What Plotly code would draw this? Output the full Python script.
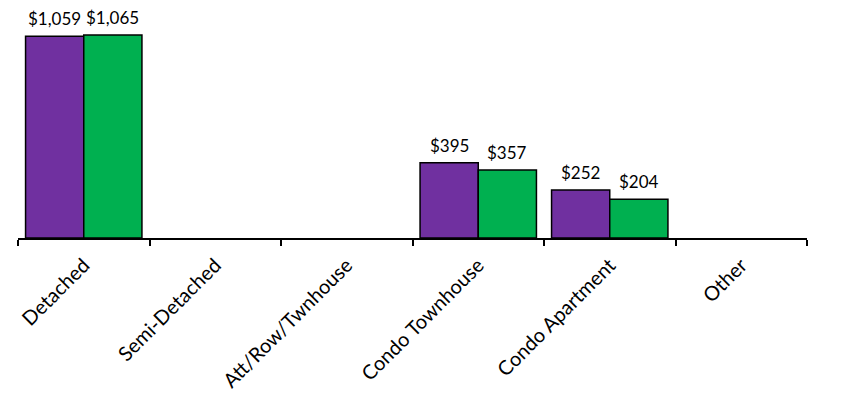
import plotly.graph_objects as go

categories = ["Detached", "Semi-Detached", "Att/Row/Twnhouse", "Condo Townhouse", "Condo Apartment", "Other"]
series_a = [1059, None, None, 395, 252, None]
series_b = [1065, None, None, 357, 204, None]

purple = "#7030A0"
green = "#00B050"
font = "Lato"

fig = go.Figure()
fig.add_trace(go.Bar(x=categories, y=series_a, name="A", marker=dict(color=purple, line=dict(color="black", width=1.5))))
fig.add_trace(go.Bar(x=categories, y=series_b, name="B", marker=dict(color=green, line=dict(color="black", width=1.5))))

# value labels above bars
for vals, shift in ((series_a, -29), (series_b, 29)):
    for c, v in zip(categories, vals):
        if v is None:
            continue
        fig.add_annotation(x=c, y=v, xref="x", yref="y", text="${:,}".format(v), showarrow=False,
                           xshift=shift, yshift=5, yanchor="bottom",
                           font=dict(family=font, size=17, color="black"))

# page body has an 8px margin, so the figure is sized a bit smaller
fig.update_layout(
    width=836, height=408,
    margin=dict(l=10, r=37, t=0, b=178),
    plot_bgcolor="white", paper_bgcolor="white",
    showlegend=False,
    barmode="group", bargap=0.115, bargroupgap=0,
)
fig.update_xaxes(showline=True, linecolor="black", linewidth=1.5, ticks="outside", tickson="boundaries",
                 ticklen=6, tickwidth=1.5, tickcolor="black", tickangle=-45, automargin=False,
                 tickfont=dict(family=font, size=20, color="black"), ticklabelstandoff=6)
fig.update_yaxes(range=[0, 1207], visible=False, showgrid=False)

fig.write_html("out.html")
